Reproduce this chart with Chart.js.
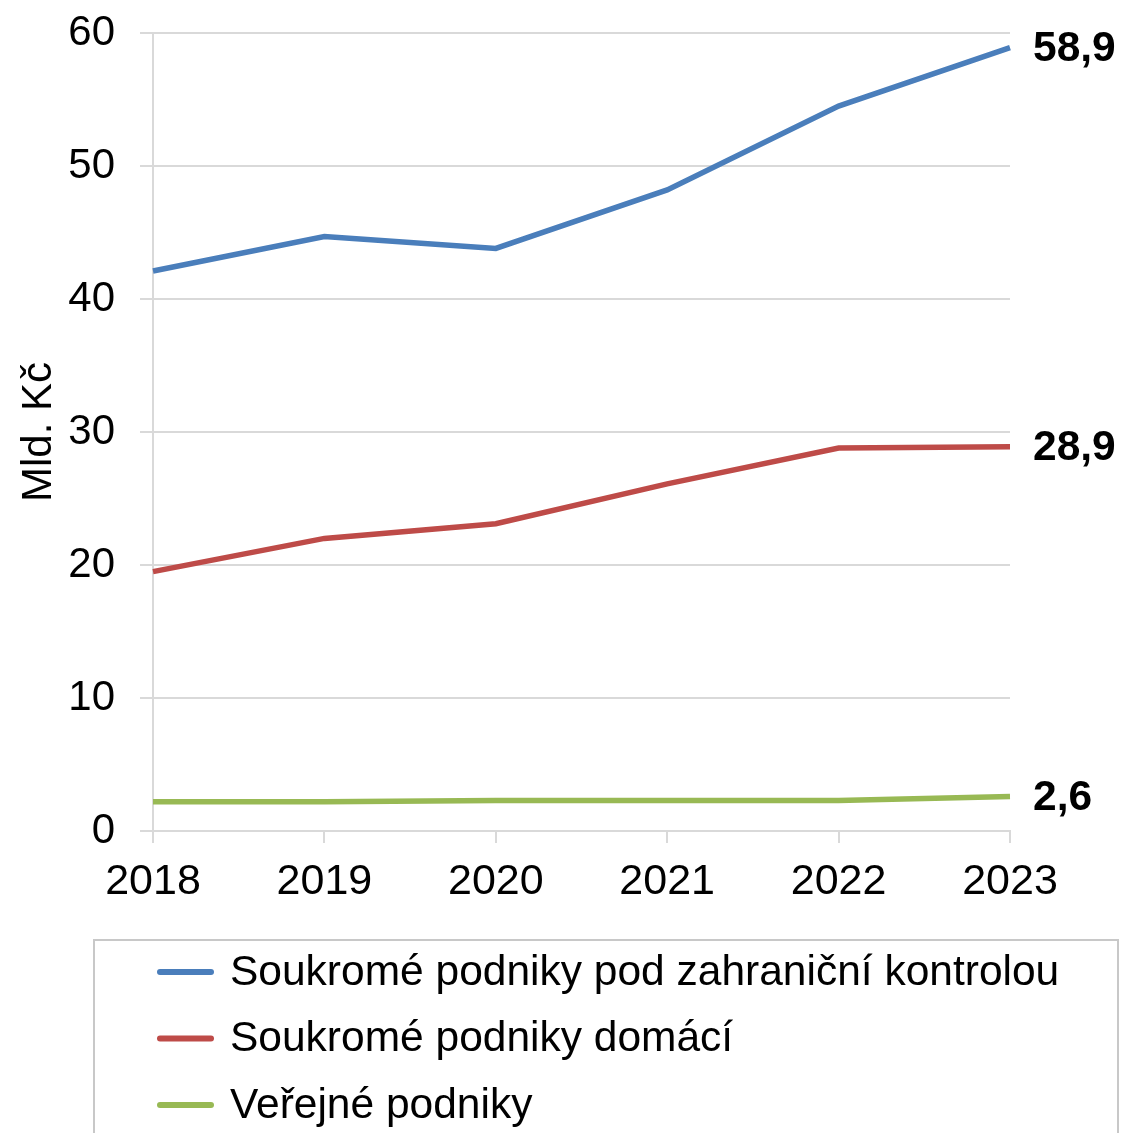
<!DOCTYPE html>
<html>
<head>
<meta charset="utf-8">
<script src="https://cdn.jsdelivr.net/npm/chart.js@4.4.1/dist/chart.umd.min.js"></script>
<style>
    body { margin: 0; background: #fff; }
    #wrap { width: 1122px; height: 1133px; }
</style>
</head>
<body>
<div id="wrap"><canvas id="vydajeChart" width="1122" height="1133"></canvas></div>
<script>
    const years = ['2018', '2019', '2020', '2021', '2022', '2023'];
    const zahranicni = [42.1, 44.7, 43.8, 48.2, 54.5, 58.9];
    const domaci = [19.5, 22.0, 23.1, 26.1, 28.8, 28.9];
    const verejne = [2.2, 2.2, 2.3, 2.3, 2.3, 2.6];
    const seriesNames = [
        'Soukromé podniky pod zahraniční kontrolou',
        'Soukromé podniky domácí',
        'Veřejné podniky'
    ];
    const colors = ['#4a7ebb', '#be4b48', '#98b954'];
    const yTitle = 'Mld. Kč';

    const fontFamily = 'Arial, "Liberation Sans", sans-serif';
    const gridColor = '#d9d9d9';

    // popisek posledni hodnoty vpravo od cary
    const endLabels = {
        id: 'endLabels',
        afterDatasetsDraw(chart) {
            const ctx = chart.ctx;
            ctx.save();
            ctx.font = 'bold 42.5px ' + fontFamily;
            ctx.fillStyle = '#000';
            ctx.textAlign = 'left';
            ctx.textBaseline = 'middle';
            chart.data.datasets.forEach((ds, i) => {
                const meta = chart.getDatasetMeta(i);
                const last = meta.data[meta.data.length - 1];
                const val = ds.data[ds.data.length - 1];
                ctx.fillText(val.toFixed(1).replace('.', ','), last.x + 23, last.y + 2);
            });
            ctx.restore();
        }
    };

    // legenda v ramecku pod grafem
    const boxLegend = {
        id: 'boxLegend',
        afterDraw(chart) {
            const ctx = chart.ctx;
            ctx.save();
            ctx.strokeStyle = '#c8c8c8';
            ctx.lineWidth = 2;
            ctx.strokeRect(94, 940, 1024, 260);
            ctx.font = '42.5px ' + fontFamily;
            ctx.textAlign = 'left';
            ctx.textBaseline = 'middle';
            chart.data.datasets.forEach((ds, i) => {
                const y = 972 + i * 66.5;
                ctx.strokeStyle = ds.borderColor;
                ctx.lineWidth = 6;
                ctx.lineCap = 'round';
                ctx.beginPath();
                ctx.moveTo(160, y);
                ctx.lineTo(211, y);
                ctx.stroke();
                ctx.fillStyle = '#000';
                ctx.fillText(ds.label, 230, y + 1);
            });
            ctx.restore();
        }
    };

    const datasets = [zahranicni, domaci, verejne].map((values, i) => ({
        label: seriesNames[i],
        data: values,
        borderColor: colors[i],
        backgroundColor: colors[i],
        borderWidth: 5.5,
        pointRadius: 0,
        tension: 0,
        fill: false
    }));

    const ctx = document.getElementById('vydajeChart').getContext('2d');
    new Chart(ctx, {
        type: 'line',
        data: { labels: years, datasets: datasets },
        options: {
            responsive: false,
            animation: false,
            layout: { padding: { top: 33, right: 112, left: 0, bottom: 212 } },
            plugins: {
                legend: { display: false },
                tooltip: { enabled: false }
            },
            scales: {
                x: {
                    offset: false,
                    grid: {
                        drawOnChartArea: false,
                        color: gridColor,
                        lineWidth: 2,
                        tickLength: 12
                    },
                    border: { color: gridColor, width: 2 },
                    ticks: {
                        color: '#000',
                        padding: 13,
                        maxRotation: 0,
                        font: { family: fontFamily, size: 43 }
                    },
                    afterFit(scale) {
                        scale.height = 90;
                        scale.paddingLeft = 0;
                        scale.paddingRight = 0;
                    }
                },
                y: {
                    min: 0,
                    max: 60,
                    ticks: {
                        stepSize: 10,
                        color: '#000',
                        padding: 25,
                        font: { family: fontFamily, size: 42 }
                    },
                    grid: { color: gridColor, lineWidth: 2, tickLength: 13 },
                    border: { color: gridColor, width: 2 },
                    title: {
                        display: true,
                        text: yTitle,
                        color: '#000',
                        padding: { top: 14, bottom: 0 },
                        font: { family: fontFamily, size: 42 }
                    },
                    afterFit(scale) {
                        scale.width = 153;
                        scale.paddingTop = 0;
                        scale.paddingBottom = 0;
                    }
                }
            }
        },
        plugins: [endLabels, boxLegend]
    });
</script>
</body>
</html>
